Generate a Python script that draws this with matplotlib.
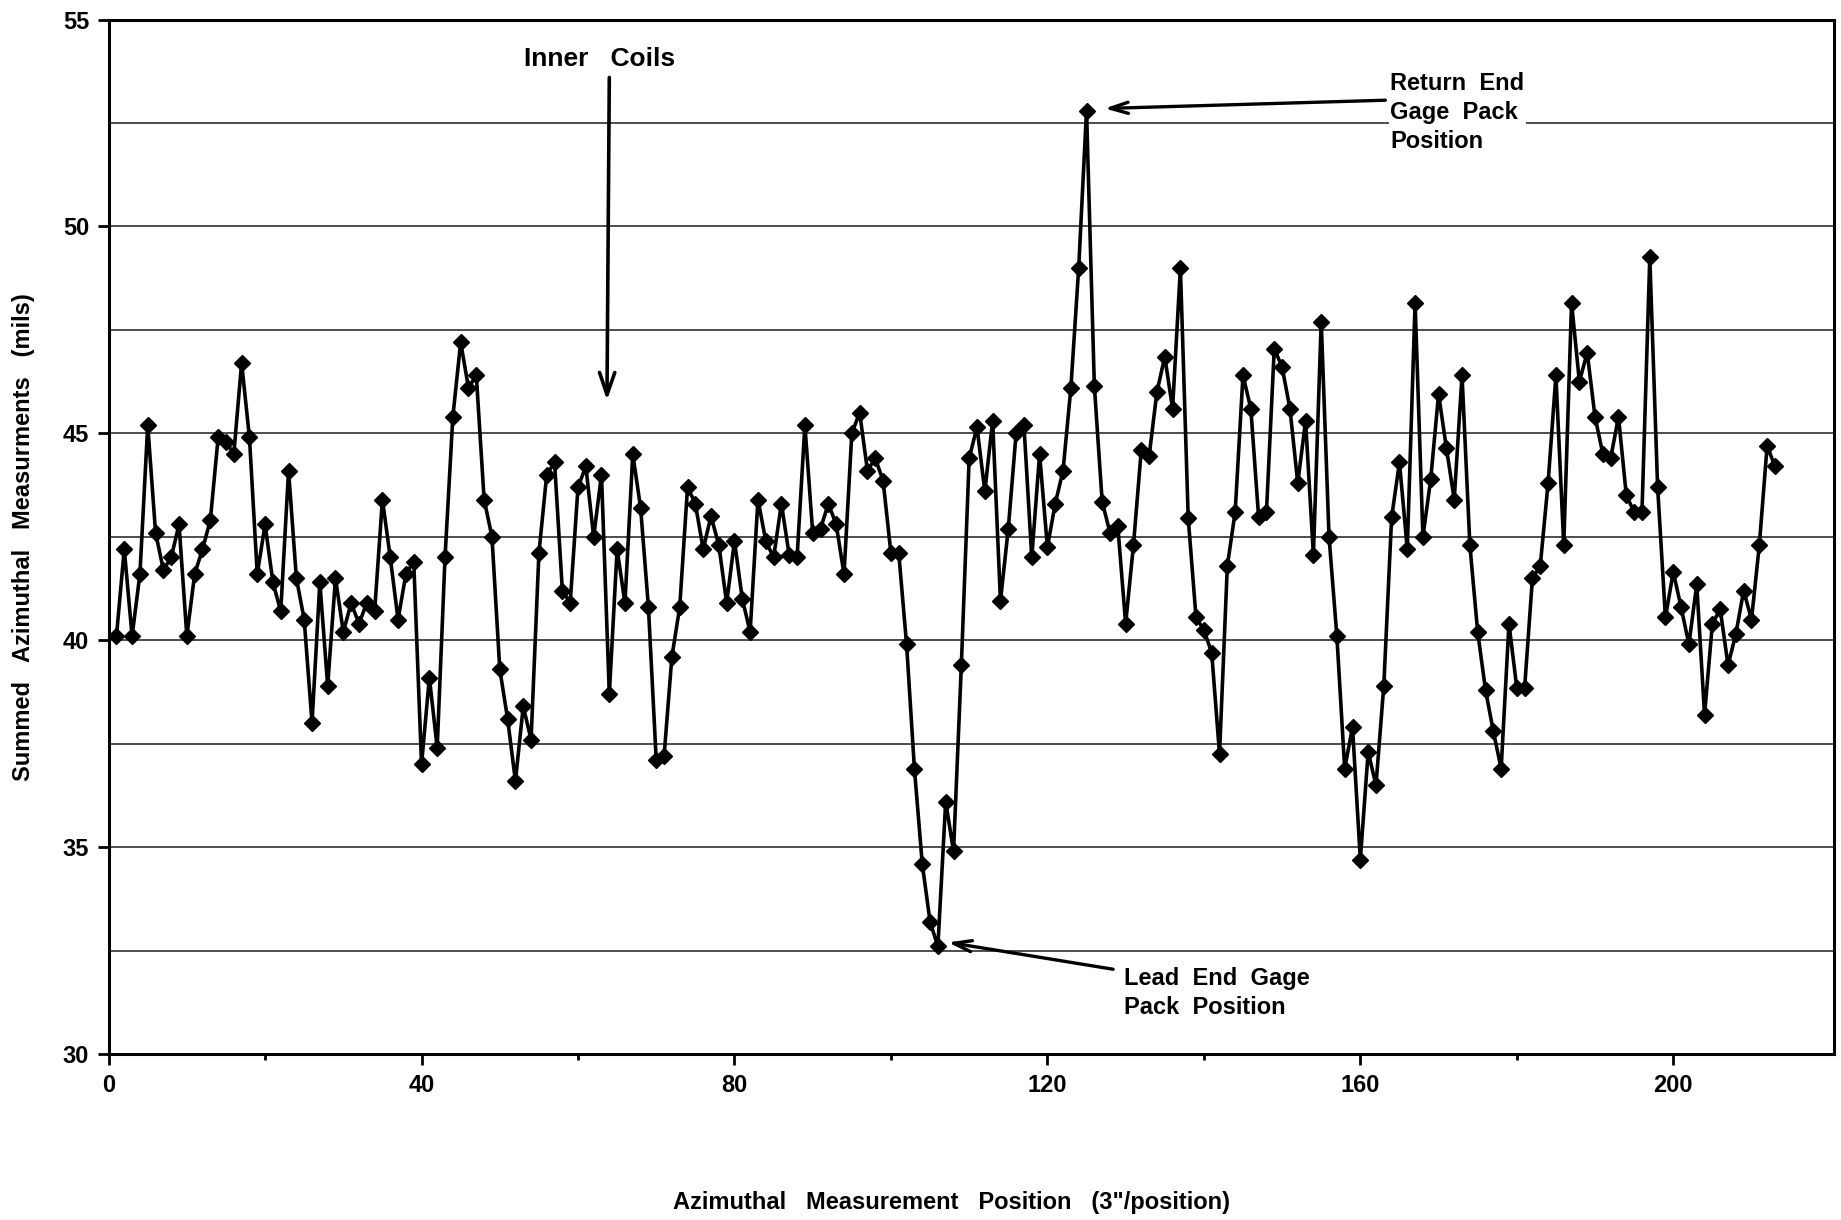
import matplotlib
matplotlib.use("Agg")
import matplotlib.pyplot as plt
import numpy as np

positions = list(range(1, 214))
values = [
    40.1, 42.2, 40.1, 41.6, 45.2, 42.6, 41.7, 42.0, 42.8, 40.1,
    41.6, 42.2, 42.9, 44.9, 44.8, 44.5, 46.7, 44.9, 41.6, 42.8,
    41.4, 40.7, 44.1, 41.5, 40.5, 38.0, 41.4, 38.9, 41.5, 40.2,
    40.9, 40.4, 40.9, 40.7, 43.4, 42.0, 40.5, 41.6, 41.9, 37.0,
    39.1, 37.4, 42.0, 45.4, 47.2, 46.1, 46.4, 43.4, 42.5, 39.3,
    38.1, 36.6, 38.4, 37.6, 42.1, 44.0, 44.3, 41.2, 40.9, 43.7,
    44.2, 42.5, 44.0, 38.7, 42.2, 40.9, 44.5, 43.2, 40.8, 37.1,
    37.2, 39.6, 40.8, 43.7, 43.3, 42.2, 43.0, 42.3, 40.9, 42.4,
    41.0, 40.2, 43.4, 42.4, 42.0, 43.3, 42.05, 42.0, 45.2, 42.6,
    42.7, 43.3, 42.8, 41.6, 45.0, 45.5, 44.1, 44.4, 43.85, 42.1,
    42.1, 39.9, 36.9, 34.6, 33.2, 32.6, 36.1, 34.9, 39.4, 44.4,
    45.15, 43.6, 45.3, 40.95, 42.7, 45.0, 45.2, 42.0, 44.5, 42.25,
    43.3, 44.1, 46.1, 49.0, 52.8, 46.15, 43.35, 42.6, 42.75, 40.4,
    42.3, 44.6, 44.45, 46.0, 46.85, 45.6, 49.0, 42.95, 40.55, 40.25,
    39.7, 37.25, 41.8, 43.1, 46.4, 45.6, 42.97, 43.1, 47.05, 46.6,
    45.6, 43.8, 45.3, 42.07, 47.7, 42.5, 40.1, 36.9, 37.9, 34.7,
    37.3, 36.5, 38.9, 42.97, 44.3, 42.2, 48.15, 42.5, 43.9, 45.95,
    44.65, 43.4, 46.4, 42.3, 40.2, 38.8, 37.8, 36.9, 40.4, 38.85,
    38.85, 41.5, 41.8, 43.8, 46.4, 42.3, 48.15, 46.25, 46.95, 45.4,
    44.5, 44.4, 45.4, 43.5, 43.1, 43.1, 49.25, 43.7, 40.55, 41.65,
    40.8, 39.9, 41.35, 38.2, 40.4, 40.75, 39.4, 40.15, 41.2, 40.5,
    42.3, 44.7, 44.2,
]

x_major = [0, 40, 80, 120, 160, 200]
x_minor = [20, 60, 100, 140, 180]
y_major = [30, 35, 40, 45, 50, 55]
y_grid = [32.5, 35, 37.5, 40, 42.5, 45, 47.5, 50, 52.5]

plt.rcParams['font.family'] = ['Liberation Sans', 'DejaVu Sans']

fig = plt.figure(figsize=(18.41, 12.20), dpi=100)
ax = fig.add_axes([0.059, 0.136, 0.937, 0.848])

for g in y_grid:
    ax.axhline(g, color='0.3', lw=1.4, zorder=1)

ax.plot(positions, values, color='black', lw=2.6, marker='D',
        markersize=8, markerfacecolor='black', markeredgecolor='black', zorder=3)

ax.set_xlim(0, 220.5)
ax.set_ylim(30, 55)
ax.set_xticks(x_major)
ax.set_xticks(x_minor, minor=True)
ax.set_yticks(y_major)
ax.tick_params(axis='both', which='major', direction='out', length=8, width=2,
               labelsize=17, pad=6)
ax.tick_params(axis='x', which='minor', direction='out', length=4, width=2)
for lab in ax.get_xticklabels() + ax.get_yticklabels():
    lab.set_fontweight('bold')
for s in ax.spines.values():
    s.set_linewidth(2.2)

fig.text(0.517, 0.014, 'Azimuthal   Measurement   Position   (3"/position)',
         ha='center', va='center', fontsize=17, fontweight='bold')
fig.text(0.0125, 0.56, 'Summed   Azimuthal   Measurments   (mils)',
         ha='center', va='center', rotation=90, fontsize=17, fontweight='bold')

ax.text(62.8, 54.05, 'Inner   Coils', ha='center', va='center',
        fontsize=19, fontweight='bold')
ax.annotate('', xy=(63.7, 45.8), xytext=(64.0, 53.6),
            arrowprops=dict(arrowstyle='->,head_length=1.6,head_width=0.55',
                            color='black', lw=2.6, shrinkA=0, shrinkB=0))
ax.annotate('', xy=(127.3, 52.85), xytext=(163.2, 53.05),
            arrowprops=dict(arrowstyle='->,head_length=1.3,head_width=0.4',
                            color='black', lw=2.4, shrinkA=0, shrinkB=0))
ax.text(163.8, 52.75, 'Return  End\nGage  Pack\nPosition', ha='left', va='center',
        fontsize=17, fontweight='bold', linespacing=1.35,
        bbox=dict(facecolor='white', edgecolor='none', pad=1), zorder=5)
ax.annotate('', xy=(107.3, 32.7), xytext=(128.4, 32.05),
            arrowprops=dict(arrowstyle='->,head_length=1.3,head_width=0.4',
                            color='black', lw=2.4, shrinkA=0, shrinkB=0))
ax.text(129.8, 31.47, 'Lead  End  Gage\nPack  Position', ha='left', va='center',
        fontsize=17, fontweight='bold', linespacing=1.35,
        bbox=dict(facecolor='white', edgecolor='none', pad=1), zorder=5)

fig.savefig('out.png', dpi=100)
